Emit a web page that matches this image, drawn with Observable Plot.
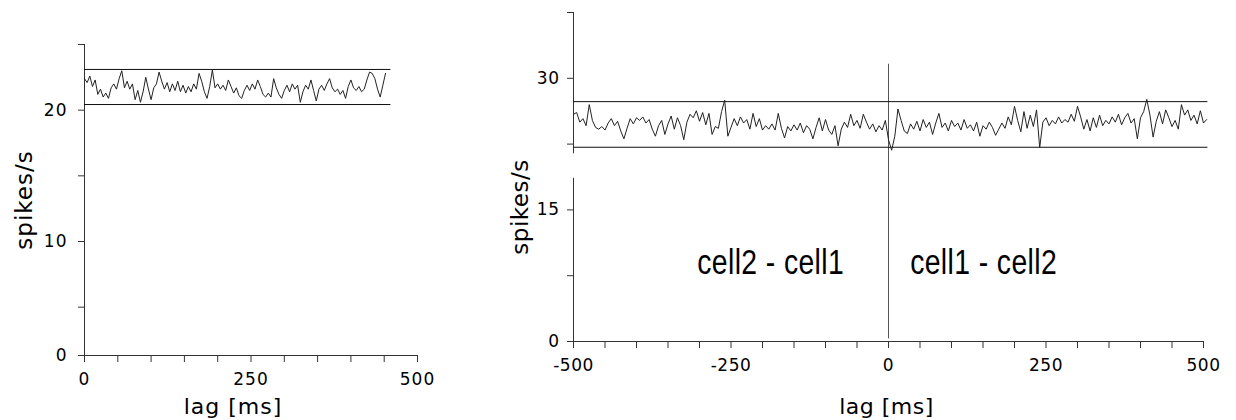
<!DOCTYPE html>
<html><head><meta charset="utf-8">
<script src="https://cdn.jsdelivr.net/npm/d3@7"></script>
<script src="https://cdn.jsdelivr.net/npm/@observablehq/plot@0.6"></script>
<style>
html,body{margin:0;padding:0;background:#fff;}
#wrap{position:relative;width:1236px;height:420px;overflow:hidden;background:#fff;}
#left{position:absolute;left:0;top:0;}
#right{position:absolute;left:490px;top:0;}
</style></head><body>
<div id="wrap"><div id="left"></div><div id="right"></div></div>
<script>
// ---------- data: left panel (auto-correlogram, 0..455 ms, 4 ms bins) ----------
const leftBinStart = 0;
const leftBinWidth = 4;
const leftRate = [
  22.4, 22.1, 22.6, 21.8, 22.3, 21.2, 21.6, 21.0, 21.3, 20.9,
  21.7, 22.0, 21.6, 22.4, 23.0, 21.7, 22.2, 21.6, 22.0, 20.8,
  21.5, 20.6, 21.4, 22.5, 21.6, 20.8, 21.7, 22.0, 22.9, 22.2,
  21.6, 22.1, 21.4, 22.0, 21.5, 22.2, 21.4, 21.9, 21.3, 21.8,
  21.4, 22.0, 21.6, 22.8, 22.2, 21.4, 20.9, 21.8, 23.05, 21.7,
  22.0, 21.6, 21.9, 21.5, 22.3, 21.8, 21.3, 21.7, 21.1, 20.9,
  21.5, 21.9, 21.5, 22.0, 21.6, 22.3, 21.8, 21.2, 21.0, 21.3,
  21.0, 22.4, 21.7, 21.2, 20.9, 21.5, 21.9, 21.4, 22.0, 21.6,
  21.9, 20.6, 21.4, 21.9, 21.6, 22.3, 21.5, 20.7, 21.6, 21.9,
  21.5, 22.0, 22.4, 21.7, 21.4, 21.6, 21.2, 21.5, 20.9, 21.8,
  22.3, 21.7, 21.5, 21.8, 21.4, 21.6, 22.3, 22.9, 22.8, 22.4,
  21.6, 21.0, 21.9, 22.8
];
const leftBounds = [20.43, 23.1];       // confidence lines (spikes/s)
const leftBoundsEnd = 460;              // ms, extent of the confidence lines
const leftXTicks = [0, 50, 100, 150, 200, 250, 300, 350, 400, 450, 500];
const leftXLabels = [0, 250, 500];
const leftYTicks = [0, 5, 10, 15, 20, 25];
const leftYLabels = [0, 10, 20];

// ---------- data: right panel (cross-correlogram, -500..505 ms, 5 ms bins) ----------
const rightBinStart = -500;
const rightBinWidth = 5;
const rightRate = [
  25.9, 26.1, 25.0, 25.4, 24.6, 27.0, 25.2, 24.4, 24.2, 24.5,
  24.1, 24.9, 25.4, 24.6, 25.1, 24.0, 23.1, 24.3, 25.4, 24.8,
  25.5, 25.2, 25.6, 24.9, 25.3, 24.2, 23.4, 24.6, 25.2, 23.6,
  24.8, 25.7, 24.2, 25.5, 24.6, 23.0, 25.0, 25.9, 25.5, 26.3,
  25.1, 26.1, 24.7, 26.0, 23.6, 24.5, 24.3, 26.2, 27.5, 23.4,
  24.4, 25.4, 24.6, 25.6, 24.9, 25.3, 24.2, 26.0, 24.5, 25.4,
  24.1, 24.6, 24.2, 24.8, 24.1, 26.0, 24.3, 23.2, 24.5, 24.0,
  24.7, 24.1, 24.9, 23.8, 24.6, 24.2, 23.1, 24.4, 25.5, 24.0,
  25.3, 24.1, 23.6, 24.6, 22.3, 24.2, 25.0, 24.4, 25.9, 24.6,
  25.2, 24.3, 25.9, 25.0, 24.2, 24.8, 23.9, 24.6, 24.1, 25.2,
  23.0, 21.8, 23.4, 26.5, 25.2, 24.0, 23.7, 24.8, 24.2, 25.1,
  24.0, 25.3, 24.4, 25.0, 23.6, 24.9, 26.0, 24.4, 24.9, 24.0,
  25.2, 24.5, 24.9, 24.1, 25.3, 24.3, 24.7, 24.0, 25.0, 23.4,
  24.6, 24.2, 25.0, 24.4, 23.5, 24.2, 24.9, 24.3, 25.6, 24.7,
  26.8, 25.2, 23.9, 26.2, 24.3, 25.8, 24.5, 26.4, 22.1, 25.0,
  25.5, 24.6, 25.2, 24.8, 25.6, 24.9, 25.3, 25.0, 25.9, 25.1,
  26.8, 25.6, 24.2, 25.3, 24.0, 25.5, 24.4, 25.8, 24.6, 25.2,
  24.8, 25.6, 25.0, 25.9, 24.7, 25.5, 26.0, 24.9, 25.4, 23.1,
  25.5, 26.2, 27.6, 25.8, 23.3, 25.1, 26.2, 24.8, 26.4, 25.5,
  24.5, 25.2, 24.2, 27.0, 25.8, 26.4, 25.2, 25.8, 24.8, 26.3,
  24.9, 25.3
];
const rightBounds = [22.14, 27.34];
const rightBoundsEnd = 507;
const rightXTicks = [-500, -450, -400, -350, -300, -250, -200, -150, -100, -50, 0,
                     50, 100, 150, 200, 250, 300, 350, 400, 450, 500];
const rightXLabels = [-500, -250, 0, 250, 500];
const rightYTicks = [0, 7.5, 15, 22.5, 30, 37.5];
const rightYLabels = [0, 15, 30];
// the right y-axis line of the original has a small break just under the lower bound line
const rightYAxisSegments = [{from: 0, to: 18.6}, {from: 21.4, to: 37.5}];
const zeroLagLine = {lag: 0, from: 0.3, to: 31.6};
const cellLabels = [
  {text: "cell2 - cell1", lag: -187, rate: 9.0},
  {text: "cell1 - cell2", lag: 151, rate: 9.0}
];
const xTitle = "lag [ms]";
const yTitle = "spikes/s";

// ---------- tables ----------
const leftTrace = leftRate.map((r, i) => ({lag: leftBinStart + i * leftBinWidth, rate: r}));
const rightTrace = rightRate.map((r, i) => ({lag: rightBinStart + i * rightBinWidth, rate: r}));

const axisStroke = "#333";
const traceStroke = "#222";
const titleFont = {fontSize: 22, fontFamily: "DejaVu Sans", fill: "#000", textAnchor: "middle", lineAnchor: "middle"};

// The original left y axis is compressed between 0 and 5 spikes/s
// (the 0 line sits closer to the 5 tick than the other 5-unit steps).
const lowCompress = 0.736;
const leftYTransform = v => (v >= 5 ? v : 5 - (5 - v) * lowCompress);
// axis marks do not pass through the scale transform: give them transformed positions
const leftYTickPos = leftYTicks.map(leftYTransform);
const leftYTickText = new Map(leftYTicks.map((v, i) => [leftYTickPos[i], leftYLabels.includes(v) ? String(v) : ""]));

// ---------- left plot ----------
const leftPlot = Plot.plot({
  width: 440, height: 420,
  marginLeft: 84, marginRight: 23, marginTop: 44, marginBottom: 65,
  style: {fontFamily: "DejaVu Sans", fontSize: "17px", color: "#000", background: "#fff", letterSpacing: "1px"},
  x: {domain: [0, 500]},
  y: {transform: leftYTransform, domain: [leftYTransform(0), 25]},
  marks: [
    Plot.axisX({ticks: leftXTicks, tickFormat: d => leftXLabels.includes(d) ? String(d) : "",
      tickSize: 7, tickPadding: 10, label: null, stroke: axisStroke}),
    Plot.axisY({ticks: leftYTickPos, tickFormat: d => leftYTickText.get(d) ?? "",
      tickSize: 6, tickPadding: 11, label: null, stroke: axisStroke}),
    Plot.ruleY([0], {x1: 0, x2: 500, stroke: axisStroke}),
    Plot.ruleX([0], {y1: 0, y2: 25, stroke: axisStroke}),
    Plot.ruleY(leftBounds, {x1: 0, x2: leftBoundsEnd, stroke: "#111", strokeWidth: 1}),
    Plot.line(leftTrace, {x: "lag", y: "rate", stroke: traceStroke, strokeWidth: 1}),
    Plot.text([xTitle], {...titleFont, frameAnchor: "bottom", dx: -18, dy: 51}),
    Plot.text([yTitle], {...titleFont, fontSize: 23, frameAnchor: "left", rotate: -90, dx: -60})
  ]
});
document.getElementById("left").appendChild(leftPlot);

// ---------- right plot ----------
const rightPlot = Plot.plot({
  width: 746, height: 420,
  marginLeft: 83, marginRight: 33, marginTop: 12, marginBottom: 79,
  style: {fontFamily: "DejaVu Sans", fontSize: "17px", color: "#000", background: "#fff", letterSpacing: "0.5px"},
  x: {domain: [-500, 500]},
  y: {domain: [0, 37.5]},
  marks: [
    Plot.axisX({ticks: rightXTicks, tickFormat: d => rightXLabels.includes(d) ? String(d) : "",
      tickSize: 7, tickPadding: 10, label: null, stroke: axisStroke}),
    Plot.axisY({ticks: rightYTicks, tickFormat: d => rightYLabels.includes(d) ? String(d) : "",
      tickSize: 6, tickPadding: 8, label: null, stroke: axisStroke}),
    Plot.ruleY([0], {x1: -500, x2: 500, stroke: axisStroke}),
    Plot.ruleX(rightYAxisSegments, {x: () => -500, y1: "from", y2: "to", stroke: axisStroke}),
    Plot.ruleX([zeroLagLine], {x: "lag", y1: "from", y2: "to", stroke: "#555"}),
    Plot.ruleY(rightBounds, {x1: -500, x2: rightBoundsEnd, stroke: "#111", strokeWidth: 1}),
    Plot.line(rightTrace, {x: "lag", y: "rate", stroke: traceStroke, strokeWidth: 1}),
    Plot.text(cellLabels, {x: "lag", y: "rate", text: "text", fontSize: 35,
      fontFamily: "Liberation Sans", fill: "#000", textAnchor: "middle", lineAnchor: "middle"}),
    Plot.text([xTitle], {...titleFont, frameAnchor: "bottom", dx: -2, dy: 65}),
    Plot.text([yTitle], {...titleFont, fontSize: 23, frameAnchor: "left", rotate: -90, dx: -53, dy: 30})
  ]
});
// the original annotation font is a narrow sans: compress the glyphs horizontally
d3.select(rightPlot).selectAll("text").each(function() {
  const t = this.textContent;
  if (cellLabels.some(c => c.text === t)) {
    const tr = this.getAttribute("transform") || "";
    this.setAttribute("transform", tr + " scale(0.81,1)");
  }
});
document.getElementById("right").appendChild(rightPlot);
</script>
</body></html>
